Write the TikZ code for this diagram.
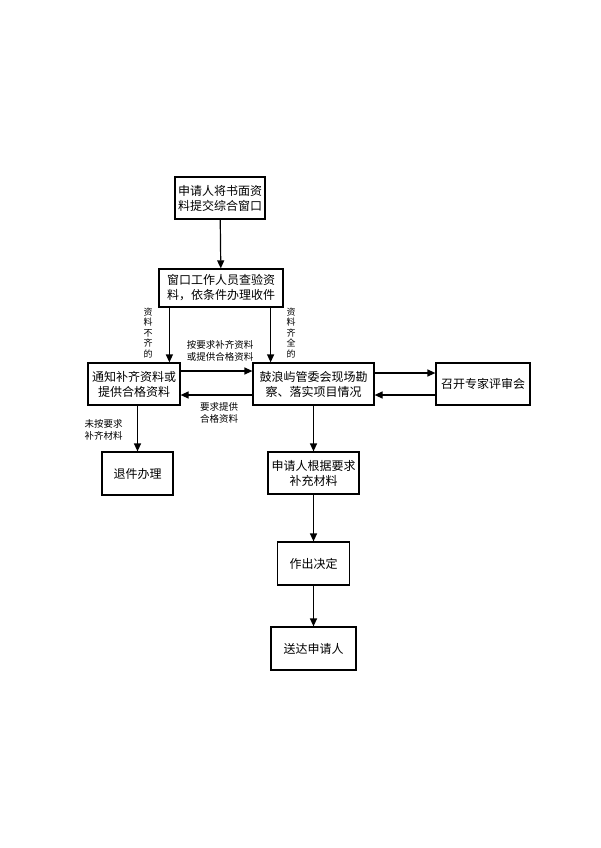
\documentclass[tikz,border=0pt]{standalone}
\usepackage{fontspec}
\setmainfont{Noto Sans CJK SC}
\usetikzlibrary{arrows.meta}
\tikzset{
  box/.style={draw,line width=1.2pt,align=center,inner sep=0pt,font=\fontsize{12}{15}\selectfont},
  arr/.style={-{Triangle[length=8pt,width=7pt]},line width=1.2pt},
  lab/.style={inner sep=0pt,align=center,font=\fontsize{9.5}{12.5}\selectfont},
  vlab/.style={inner sep=0pt,align=center,font=\fontsize{9}{10.5}\selectfont}
}
\begin{document}
\begin{tikzpicture}[x=1pt,y=-1pt]
    \useasboundingbox (0,0) rectangle (600,848);
    % caselle
    \node[box,minimum width=90pt,minimum height=42pt] (apply) at (220,198) {申请人将书面资\\料提交综合窗口};
    \node[box,minimum width=124pt,minimum height=38pt] (check) at (221,288) {窗口工作人员查验资\\料，依条件办理收件};
    \node[box,minimum width=92pt,minimum height=42pt] (notify) at (134,384) {通知补齐资料或\\提供合格资料};
    \node[box,minimum width=121pt,minimum height=42pt] (site) at (313.5,384) {鼓浪屿管委会现场勘\\察、落实项目情况};
    \node[box,minimum width=94pt,minimum height=42pt] (expert) at (483,384) {召开专家评审会};
    \node[box,minimum width=71pt,minimum height=43pt] (retn) at (137.5,473.5) {退件办理};
    \node[box,minimum width=91pt,minimum height=42pt] (supp) at (313.5,473) {申请人根据要求\\补充材料};
    \node[box,minimum width=72pt,minimum height=43pt] (decide) at (313.5,563.5) {作出决定};
    \node[box,minimum width=85pt,minimum height=43pt] (deliver) at (313.5,648.5) {送达申请人};
    % frecce
    \draw[arr] (apply) -- (check);
    \draw[arr] ([xshift=11pt]check.south west) -- ([xshift=11pt]check.south west |- notify.north);
    \draw[arr] ([xshift=-13pt]check.south east) -- ([xshift=-13pt]check.south east |- site.north);
    \draw[arr] ([yshift=13pt]notify.east) -- ([yshift=13pt]notify.east -| site.west);
    \draw[arr] ([yshift=-11pt]site.west) -- ([yshift=-11pt]site.west -| notify.east);
    \draw[arr] ([yshift=11pt]site.east) -- ([yshift=11pt]site.east -| expert.west);
    \draw[arr] ([yshift=-11pt]expert.west) -- ([yshift=-11pt]expert.west -| site.east);
    \draw[arr] (notify.south -| retn.north) -- (retn.north);
    \draw[arr] (site) -- (supp);
    \draw[arr] (supp) -- (decide);
    \draw[arr] (decide) -- (deliver);
    % etichette
    \node[vlab] (lackA) at (148,333) {资\\料\\不\\齐\\的};
    \node[vlab] (fullA) at (291,333) {资\\料\\齐\\全\\的};
    \node[lab] (suppA) at (220,351) {按要求补齐资料\\或提供合格资料};
    \node[lab] (reqA) at (219,413) {要求提供\\合格资料};
    \node[lab] (notA) at (103.5,430) {未按要求\\补齐材料};
\end{tikzpicture}
\end{document}
